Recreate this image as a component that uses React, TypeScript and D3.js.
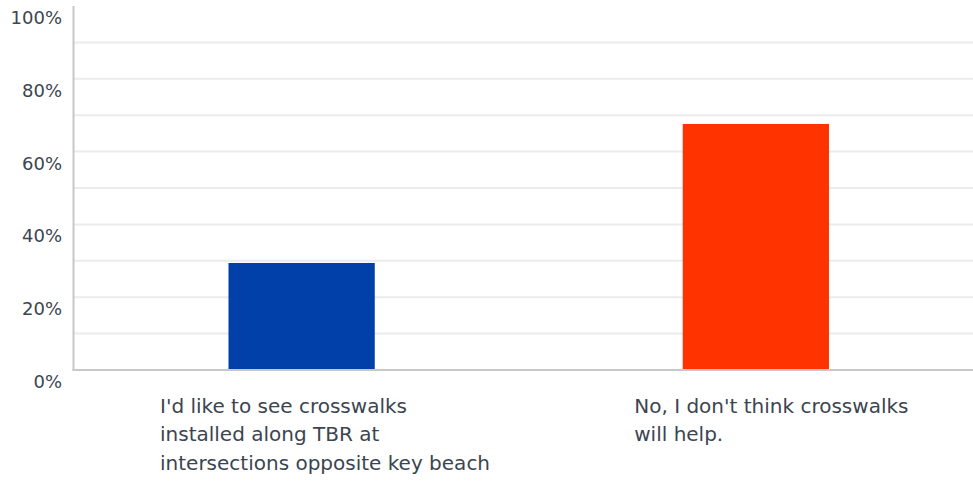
import React, { useEffect, useRef } from 'react';
import * as d3 from 'd3';

// Survey answers and their share of responses (%)
const categories = ['yes', 'no'];
const labelLines = [
  ['I\'d like to see crosswalks', 'installed along TBR at', 'intersections opposite key beach'],
  ['No, I don\'t think crosswalks', 'will help.'],
];
const values = [29.4, 67.6];
const barColors = ['#0040a8', '#ff3300'];
const yTicks = [0, 20, 40, 60, 80, 100];
const gridTicks = [10, 20, 30, 40, 50, 60, 70, 80, 90];

const WIDTH = 973;
const HEIGHT = 483;
const FONT = '"DejaVu Sans", sans-serif';
const TEXT_COLOR = '#3b4550';
// where each wrapped category label starts, relative to its band
const LABEL_DX = [85.5, 105.5];

const App: React.FC = () => {
  const svgRef = useRef<SVGSVGElement>(null);

  useEffect(() => {
    if (!svgRef.current) return;
    const svg = d3.select(svgRef.current);
    svg.selectAll('*').remove();

    const left = 73.5;
    const top = 6;
    const bottom = 370;

    const x = d3.scaleBand<string>().domain(categories).range([left + 1, 983]).padding(0);
    const y = d3.scaleLinear().domain([0, 100]).range([bottom, top]);
    const barW = x.bandwidth() * 0.322;

    // gridlines
    svg.append('g')
      .selectAll('line')
      .data(gridTicks)
      .enter()
      .append('line')
      .attr('x1', left)
      .attr('x2', WIDTH)
      .attr('y1', (d) => y(d))
      .attr('y2', (d) => y(d))
      .attr('stroke', '#ebebeb')
      .attr('stroke-width', 2);

    // bars
    svg.append('g')
      .selectAll('rect')
      .data(values)
      .enter()
      .append('rect')
      .attr('x', (d, i) => (x(categories[i]) as number) + x.bandwidth() / 2 - barW / 2)
      .attr('y', (d) => y(d))
      .attr('width', barW)
      .attr('height', (d) => bottom - y(d))
      .attr('fill', (d, i) => barColors[i]);

    // axes lines
    svg.append('line')
      .attr('x1', left).attr('x2', left)
      .attr('y1', top).attr('y2', bottom + 1)
      .attr('stroke', '#c8c8c8').attr('stroke-width', 2);
    svg.append('line')
      .attr('x1', left - 1).attr('x2', WIDTH)
      .attr('y1', bottom).attr('y2', bottom)
      .attr('stroke', '#c8c8c8').attr('stroke-width', 2);

    // y tick labels (sit below their gridline)
    svg.append('g')
      .selectAll('text')
      .data(yTicks)
      .enter()
      .append('text')
      .attr('x', 62)
      .attr('y', (d) => y(d) + 18)
      .attr('text-anchor', 'end')
      .attr('fill', TEXT_COLOR)
      .attr('font-family', FONT)
      .attr('font-size', '18px')
      .text((d) => `${d}%`);

    // category labels
    categories.forEach((c, i) => {
      const t = svg.append('text')
        .attr('x', (x(c) as number) + LABEL_DX[i])
        .attr('y', 413)
        .attr('fill', TEXT_COLOR)
        .attr('font-family', FONT)
        .attr('font-size', '20px');
      labelLines[i].forEach((line, j) => {
        t.append('tspan')
          .attr('x', (x(c) as number) + LABEL_DX[i])
          .attr('dy', j === 0 ? 0 : 28.3)
          .text(line);
      });
    });
  }, []);

  return (
    <div style={{ position: 'absolute', left: 0, top: 0, width: WIDTH, height: HEIGHT, background: '#fff' }}>
      <svg ref={svgRef} width={WIDTH} height={HEIGHT} style={{ display: 'block' }} />
    </div>
  );
};

export default App;
